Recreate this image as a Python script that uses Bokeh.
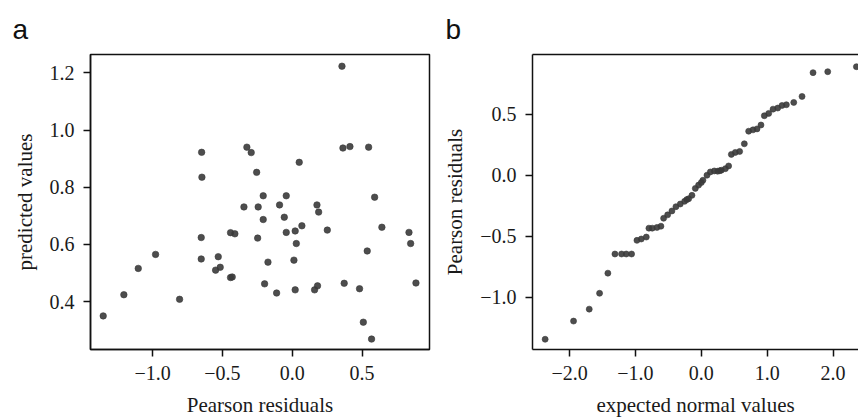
from bokeh.plotting import figure
from bokeh.layouts import row
from bokeh.models import FixedTicker, LinearAxis, Range1d
from bokeh.embed import file_html
from bokeh.resources import INLINE

# ---------------- data ----------------
# panel a: Pearson residuals vs predicted values
resid_a = [-1.354, -1.206, -1.103, -0.979, -0.807, -0.649, -0.647, -0.652, -0.652, -0.530,
           -0.549, -0.516, -0.442, -0.430, -0.442, -0.411, -0.346, -0.325, -0.294, -0.255,
           -0.244, -0.248, -0.208, -0.208, -0.174, -0.198, -0.112, -0.091, -0.043, -0.057,
           -0.043, 0.012, 0.021, 0.029, 0.021, 0.050, 0.069, 0.177, 0.189, 0.251,
           0.160, 0.181, 0.356, 0.363, 0.413, 0.372, 0.547, 0.590, 0.642, 0.537,
           0.482, 0.509, 0.568, 0.836, 0.848, 0.886]
pred_a = [0.350, 0.424, 0.516, 0.565, 0.408, 0.922, 0.835, 0.624, 0.549, 0.557,
          0.510, 0.520, 0.484, 0.486, 0.641, 0.637, 0.731, 0.940, 0.921, 0.852,
          0.731, 0.622, 0.770, 0.687, 0.538, 0.462, 0.430, 0.738, 0.770, 0.695,
          0.642, 0.545, 0.647, 0.603, 0.441, 0.887, 0.665, 0.738, 0.713, 0.650,
          0.441, 0.455, 1.223, 0.937, 0.942, 0.464, 0.940, 0.765, 0.660, 0.577,
          0.445, 0.328, 0.269, 0.642, 0.603, 0.465]

# panel b: normal Q-Q plot of Pearson residuals
expected_b = [-2.370, -1.939, -1.701, -1.544, -1.418, -1.311, -1.210, -1.139, -1.058, -0.977,
              -0.911, -0.835, -0.795, -0.744, -0.673, -0.613, -0.572, -0.511, -0.446, -0.385,
              -0.319, -0.253, -0.220, -0.192, -0.142, -0.091, -0.041, 0.000, 0.025, 0.086,
              0.137, 0.197, 0.248, 0.280, 0.304, 0.365, 0.415, 0.456, 0.516, 0.582,
              0.653, 0.719, 0.785, 0.846, 0.906, 0.957, 1.023, 1.089, 1.160, 1.225,
              1.291, 1.403, 1.529, 1.696, 1.919, 2.354]
resid_b = [-1.345, -1.196, -1.098, -0.968, -0.803, -0.646, -0.646, -0.646, -0.646, -0.534,
           -0.523, -0.507, -0.434, -0.434, -0.428, -0.418, -0.353, -0.325, -0.293, -0.258,
           -0.236, -0.214, -0.200, -0.193, -0.165, -0.108, -0.081, -0.060, -0.041, 0.000,
           0.027, 0.035, 0.033, 0.037, 0.041, 0.054, 0.076, 0.171, 0.187, 0.195,
           0.258, 0.361, 0.372, 0.380, 0.412, 0.488, 0.507, 0.542, 0.551, 0.572,
           0.578, 0.597, 0.646, 0.841, 0.849, 0.890]

# ticks
xticks_a = [-1.0, -0.5, 0.0, 0.5]
xlabels_a = ["\u22121.0", "\u22120.5", "0.0", "0.5"]
yticks_a = [0.4, 0.6, 0.8, 1.0, 1.2]
ylabels_a = ["0.4", "0.6", "0.8", "1.0", "1.2"]
xticks_b = [-2.0, -1.0, 0.0, 1.0, 2.0]
xlabels_b = ["\u22122.0", "\u22121.0", "0.0", "1.0", "2.0"]
yticks_b = [-1.0, -0.5, 0.0, 0.5]
ylabels_b = ["\u22121.0", "\u22120.5", "0.0", "0.5"]

SERIF = "Liberation Serif"
DOT = "#3a3a3a"


def style_axis(ax, ticks, labels, label, tick_standoff, label_standoff):
    ax.ticker = FixedTicker(ticks=ticks)
    ax.major_label_overrides = {t: l for t, l in zip(ticks, labels)}
    ax.axis_label = label
    ax.axis_label_text_font = SERIF
    ax.axis_label_text_font_style = "normal"
    ax.axis_label_text_font_size = "21px"
    ax.axis_label_text_color = "#1a1a1a"
    ax.major_label_text_font = SERIF
    ax.major_label_text_font_size = "20px"
    ax.major_label_text_color = "#1a1a1a"
    ax.axis_line_color = "#111111"
    ax.axis_line_width = 1.5
    ax.major_tick_line_color = "#111111"
    ax.major_tick_line_width = 1.5
    ax.major_tick_in = 0
    ax.major_tick_out = 7
    ax.minor_tick_line_color = None
    ax.major_label_standoff = tick_standoff
    ax.axis_label_standoff = label_standoff


def make_title(p, text, offset):
    p.title.text = text
    p.title.text_font = "Liberation Sans"
    p.title.text_font_size = "28px"
    p.title.text_font_style = "normal"
    p.title.text_color = "#111111"
    p.title.align = "left"
    p.title.offset = offset
    p.title.standoff = 19


# ---------------- panel a ----------------
pa = figure(width=438, height=419, output_backend="svg", toolbar_location=None,
            x_range=Range1d(-1.445, 0.983), y_range=Range1d(0.2325, 1.264),
            min_border_left=90, min_border_right=9, min_border_top=54, min_border_bottom=69)
pa.scatter(resid_a, pred_a, size=6.5, color=DOT, fill_alpha=0.9, line_alpha=0.6)
style_axis(pa.xaxis[0], xticks_a, xlabels_a, "Pearson residuals", 9, 10)
style_axis(pa.yaxis[0], yticks_a, ylabels_a, "predicted values", 9, 10)
pa.xgrid.visible = False
pa.ygrid.visible = False
pa.outline_line_color = "#111111"
pa.outline_line_width = 1.5
pa.outline_line_alpha = 1.0
make_title(pa, "a", -78)

# ---------------- panel b ----------------
pb = figure(width=420, height=419, output_backend="svg", toolbar_location=None,
            x_range=Range1d(-2.562, 2.386), y_range=Range1d(-1.429, 0.990),
            min_border_left=94, min_border_right=0, min_border_top=54, min_border_bottom=69)
pb.scatter(expected_b, resid_b, size=6, color=DOT, fill_alpha=0.9, line_alpha=0.6)
style_axis(pb.xaxis[0], xticks_b, xlabels_b, "expected normal values", 9, 10)
style_axis(pb.yaxis[0], yticks_b, ylabels_b, "Pearson residuals", 9, 10)
pb.xgrid.visible = False
pb.ygrid.visible = False
pb.outline_line_color = None
top = LinearAxis(ticker=FixedTicker(ticks=[]), axis_line_color="#111111", axis_line_width=1.5,
                 major_tick_line_color=None, minor_tick_line_color=None,
                 major_label_text_font_size="0px")
pb.add_layout(top, "above")
make_title(pb, "b", -87)

layout = row(pa, pb)
open("out.html", "w").write(file_html(layout, INLINE))
